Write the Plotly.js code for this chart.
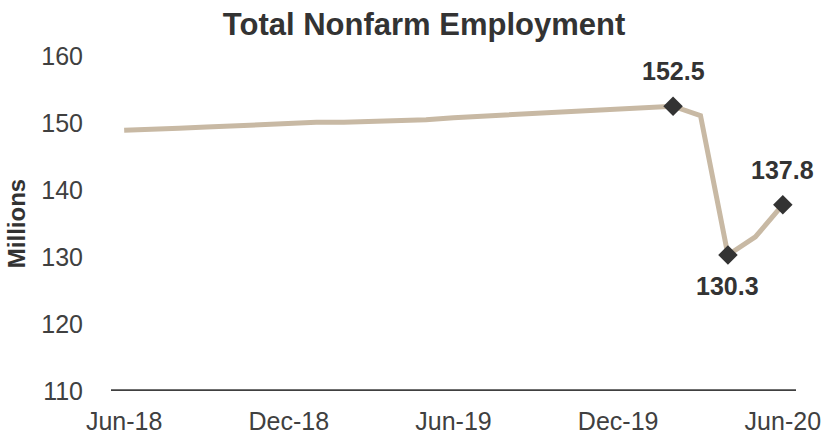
<!DOCTYPE html>
<html>
<head>
<meta charset="utf-8">
<script src="https://cdn.plot.ly/plotly-3.0.1.min.js"></script>
<style>html,body{margin:0;padding:0;background:#fff;}#chart{width:825px;height:437px;}</style>
</head>
<body>
<div id="chart"></div>
<script>
const months = ["Jun-18","Jul-18","Aug-18","Sep-18","Oct-18","Nov-18","Dec-18",
  "Jan-19","Feb-19","Mar-19","Apr-19","May-19","Jun-19","Jul-19","Aug-19","Sep-19",
  "Oct-19","Nov-19","Dec-19","Jan-20","Feb-20","Mar-20","Apr-20","May-20","Jun-20"];
const employment = [148.9,149.0,149.2,149.4,149.6,149.7,149.9,
  150.1,150.1,150.2,150.4,150.5,150.8,151.0,151.2,151.5,
  151.7,151.9,152.1,152.2,152.5,151.1,130.3,133.0,137.8];
const highlightMonths = ["Feb-20","Apr-20","Jun-20"];
const highlightValues = [152.5,130.3,137.8];
const highlightLabels = ["152.5","130.3","137.8"];
const labelAbove = [true,false,true];
const tickMonths = ["Jun-18","Dec-18","Jun-19","Dec-19","Jun-20"];
const yTicks = [110,120,130,140,150,160];

const FONT = "Liberation Sans, Arial, sans-serif";

const traces = [
  {x: months, y: employment, type: "scatter", mode: "lines",
   line: {color: "#C8B9A4", width: 5}, hoverinfo: "skip"},
  {x: highlightMonths, y: highlightValues, type: "scatter", mode: "markers",
   marker: {symbol: "diamond", size: 15, color: "#333333"}, hoverinfo: "skip"}
];

const annotations = highlightMonths.map((m, i) => ({
  x: m, y: highlightValues[i], xref: "x", yref: "y",
  text: "<b>" + highlightLabels[i] + "</b>", showarrow: false,
  xanchor: "center", yanchor: "middle",
  yshift: labelAbove[i] ? 35 : -31,
  font: {family: FONT, size: 25, color: "#333333"}
}));

const layout = {
  width: 825, height: 437,
  margin: {l: 111, r: 29, t: 56, b: 46},
  paper_bgcolor: "#ffffff", plot_bgcolor: "#ffffff",
  showlegend: false,
  font: {family: FONT, color: "#404040", size: 25},
  title: {text: "<b>Total Nonfarm Employment</b>", x: 0.514, xanchor: "center",
    y: 0.945, yanchor: "middle",
    font: {size: 31, color: "#333333", family: FONT}},
  xaxis: {type: "category", categoryorder: "array", categoryarray: months,
    range: [-0.48, 24.48], tickvals: tickMonths, ticktext: tickMonths,
    showgrid: false, zeroline: false, showline: false,
    ticks: "outside", ticklen: 8, tickcolor: "rgba(0,0,0,0)",
    tickfont: {size: 25, color: "#404040"}},
  yaxis: {range: [110, 160], tickvals: yTicks, showgrid: false, zeroline: false,
    showline: false, ticks: "outside", ticklen: 22, tickcolor: "rgba(0,0,0,0)",
    tickfont: {size: 25, color: "#404040"},
    title: {text: "<b>Millions</b>", standoff: 8, font: {size: 24, color: "#333333"}}},
  shapes: [{type: "line", xref: "paper", yref: "y", x0: 0, x1: 1, y0: 110, y1: 110,
    line: {color: "#404040", width: 3.5}}],
  annotations: annotations
};

Plotly.newPlot("chart", traces, layout, {displayModeBar: false, staticPlot: true});
</script>
</body>
</html>
